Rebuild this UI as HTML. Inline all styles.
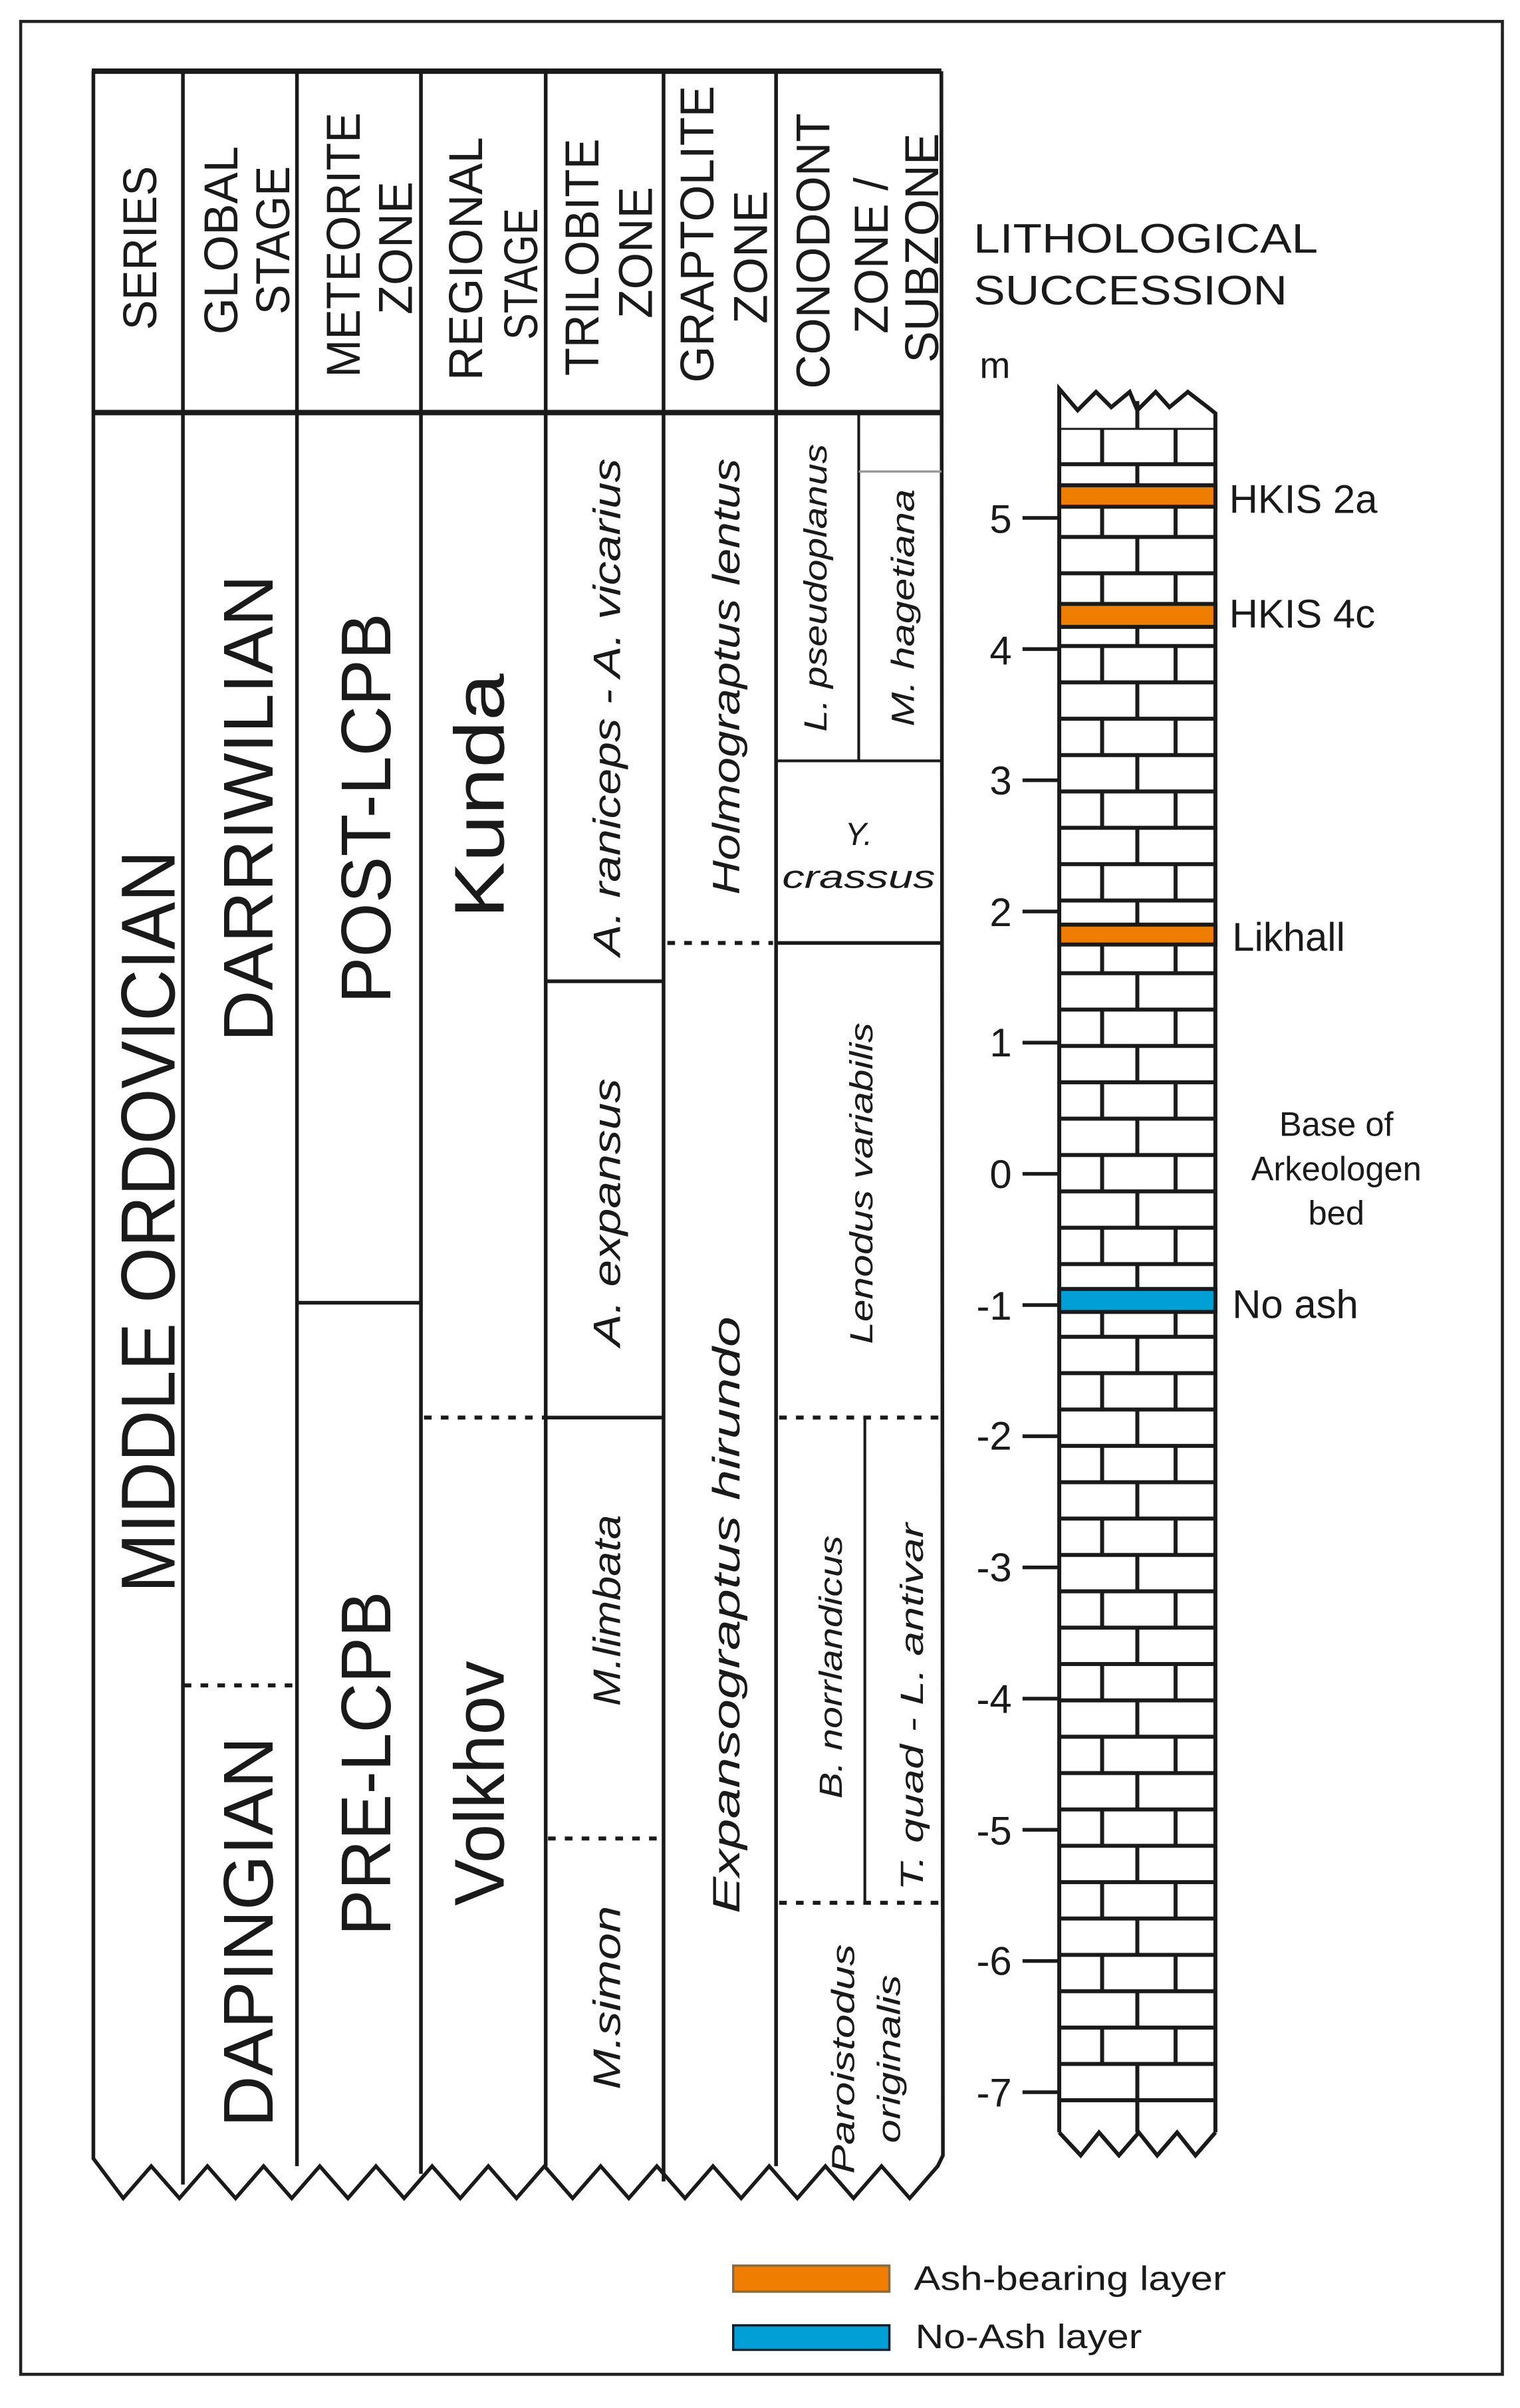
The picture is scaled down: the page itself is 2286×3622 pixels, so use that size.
<!DOCTYPE html>
<html><head><meta charset="utf-8"><style>
html,body{margin:0;padding:0;background:#fff;}
svg{display:block;}
text{font-family:"Liberation Sans",sans-serif;fill:#1a1a1a;}
.i{font-style:italic;}
</style></head><body>
<svg width="2286" height="3622" viewBox="0 0 993 1573" preserveAspectRatio="none" xmlns="http://www.w3.org/2000/svg">
<defs>
<pattern id="brick" patternUnits="userSpaceOnUse" x="692" y="279.5" width="102" height="47.5">
<g stroke="#1a1a1a" stroke-width="2.6" fill="none">
<line x1="0" y1="0" x2="102" y2="0"/>
<line x1="0" y1="23.75" x2="102" y2="23.75"/>
<line x1="0" y1="47.5" x2="102" y2="47.5"/>
<line x1="28" y1="0" x2="28" y2="23.75"/>
<line x1="76" y1="0" x2="76" y2="23.75"/>
<line x1="51" y1="23.75" x2="51" y2="47.5"/>
</g>
</pattern>
</defs>
<rect x="0" y="0" width="993" height="1573" fill="#fff"/>
<rect x="13.5" y="14" width="968" height="1537" fill="none" stroke="#222" stroke-width="2"/>

<g stroke="#1a1a1a" fill="none" stroke-width="2.4">
<line x1="60" y1="46.5" x2="615" y2="46.5" stroke-width="3.5"/>
<line x1="60" y1="269.5" x2="615" y2="269.5" stroke-width="3.5"/>
<polyline points="61,46.5 61,1410 80.5,1436 98.8,1415 117.2,1436 135.5,1415 153.9,1436 172.2,1415 190.6,1436 208.9,1415 227.3,1436 245.6,1415 264,1436 282.3,1415 300.7,1436 319,1415 337.4,1436 355.7,1415 374.1,1436 392.4,1415 410.8,1436 429.1,1415 447.5,1436 465.8,1415 484.2,1436 502.5,1415 520.9,1436 539.2,1415 557.6,1436 575.9,1415 594.3,1436 612.6,1415 616,1408 615,46.5"/>
<line x1="119.5" y1="46.5" x2="119.5" y2="1427"/>
<line x1="194" y1="46.5" x2="194" y2="1415"/>
<line x1="275" y1="46.5" x2="275" y2="1420"/>
<line x1="356.5" y1="46.5" x2="356.5" y2="1415"/>
<line x1="433.5" y1="46.5" x2="433.5" y2="1425"/>
<line x1="507" y1="46.5" x2="507" y2="1415"/>
<line x1="194" y1="851" x2="275" y2="851"/>
<line x1="356.5" y1="641" x2="433.5" y2="641"/>
<line x1="356.5" y1="926" x2="433.5" y2="926"/>
<line x1="507" y1="616" x2="615" y2="616"/>
<line x1="507" y1="497" x2="615" y2="497" stroke-width="1.8"/>
<line x1="561" y1="269.5" x2="561" y2="497" stroke-width="1.8"/>
<line x1="561" y1="308" x2="615" y2="308" stroke="#999" stroke-width="1.5"/>
<line x1="565" y1="926" x2="565" y2="1243" stroke-width="1.8"/>
<g stroke-dasharray="5,6" stroke-width="2.6">
<line x1="120" y1="1101" x2="192" y2="1101"/>
<line x1="277" y1="926" x2="356" y2="926"/>
<line x1="358" y1="1201" x2="432" y2="1201"/>
<line x1="436" y1="616" x2="505" y2="616"/>
<line x1="509" y1="926" x2="613" y2="926"/>
<line x1="509" y1="1243" x2="613" y2="1243"/>
</g>
</g>

<g font-size="31">
<text transform="translate(102,162) rotate(-90)" text-anchor="middle" textLength="107" lengthAdjust="spacingAndGlyphs">SERIES</text>
<text transform="translate(155,157) rotate(-90)" text-anchor="middle" textLength="123" lengthAdjust="spacingAndGlyphs">GLOBAL</text>
<text transform="translate(189,157) rotate(-90)" text-anchor="middle" textLength="97" lengthAdjust="spacingAndGlyphs">STAGE</text>
<text transform="translate(235,160) rotate(-90)" text-anchor="middle" textLength="173" lengthAdjust="spacingAndGlyphs">METEORITE</text>
<text transform="translate(269,162) rotate(-90)" text-anchor="middle" textLength="87" lengthAdjust="spacingAndGlyphs">ZONE</text>
<text transform="translate(315,169) rotate(-90)" text-anchor="middle" textLength="159" lengthAdjust="spacingAndGlyphs">REGIONAL</text>
<text transform="translate(351,179) rotate(-90)" text-anchor="middle" textLength="86" lengthAdjust="spacingAndGlyphs">STAGE</text>
<text transform="translate(391,168) rotate(-90)" text-anchor="middle" textLength="155" lengthAdjust="spacingAndGlyphs">TRILOBITE</text>
<text transform="translate(426,165) rotate(-90)" text-anchor="middle" textLength="86" lengthAdjust="spacingAndGlyphs">ZONE</text>
<text transform="translate(466,153) rotate(-90)" text-anchor="middle" textLength="194" lengthAdjust="spacingAndGlyphs">GRAPTOLITE</text>
<text transform="translate(501,168) rotate(-90)" text-anchor="middle" textLength="87" lengthAdjust="spacingAndGlyphs">ZONE</text>
<text transform="translate(542,164) rotate(-90)" text-anchor="middle" textLength="180" lengthAdjust="spacingAndGlyphs">CONODONT</text>
<text transform="translate(580,167) rotate(-90)" text-anchor="middle" textLength="102" lengthAdjust="spacingAndGlyphs">ZONE /</text>
<text transform="translate(613,162) rotate(-90)" text-anchor="middle" textLength="150" lengthAdjust="spacingAndGlyphs">SUBZONE</text>
</g>

<text transform="translate(114,798) rotate(-90)" text-anchor="middle" font-size="50" textLength="485" lengthAdjust="spacingAndGlyphs">MIDDLE ORDOVICIAN</text>
<text transform="translate(178,528) rotate(-90)" text-anchor="middle" font-size="46" textLength="305" lengthAdjust="spacingAndGlyphs">DARRIWILIAN</text>
<text transform="translate(178,1262) rotate(-90)" text-anchor="middle" font-size="46" textLength="255" lengthAdjust="spacingAndGlyphs">DAPINGIAN</text>
<text transform="translate(255,528) rotate(-90)" text-anchor="middle" font-size="46" textLength="255" lengthAdjust="spacingAndGlyphs">POST-LCPB</text>
<text transform="translate(255,1152) rotate(-90)" text-anchor="middle" font-size="46" textLength="225" lengthAdjust="spacingAndGlyphs">PRE-LCPB</text>
<text transform="translate(329,520) rotate(-90)" text-anchor="middle" font-size="46" textLength="160" lengthAdjust="spacingAndGlyphs">Kunda</text>
<text transform="translate(329,1165) rotate(-90)" text-anchor="middle" font-size="46" textLength="160" lengthAdjust="spacingAndGlyphs">Volkhov</text>

<g font-size="25">
<text class="i" transform="translate(405,462) rotate(-90)" text-anchor="middle" textLength="325" lengthAdjust="spacingAndGlyphs">A. raniceps - A. vicarius</text>
<text class="i" transform="translate(405,792) rotate(-90)" text-anchor="middle" textLength="175" lengthAdjust="spacingAndGlyphs">A. expansus</text>
<text class="i" transform="translate(405,1052) rotate(-90)" text-anchor="middle" textLength="125" lengthAdjust="spacingAndGlyphs">M.limbata</text>
<text class="i" transform="translate(405,1305) rotate(-90)" text-anchor="middle" textLength="120" lengthAdjust="spacingAndGlyphs">M.simon</text>
<text class="i" transform="translate(483,442) rotate(-90)" text-anchor="middle" textLength="285" lengthAdjust="spacingAndGlyphs">Holmograptus lentus</text>
<text class="i" transform="translate(483,1055) rotate(-90)" text-anchor="middle" textLength="390" lengthAdjust="spacingAndGlyphs">Expansograptus hirundo</text>
</g>
<g font-size="21">
<text class="i" transform="translate(540,384) rotate(-90)" text-anchor="middle" textLength="188" lengthAdjust="spacingAndGlyphs">L. pseudoplanus</text>
<text class="i" transform="translate(597,397) rotate(-90)" text-anchor="middle" textLength="155" lengthAdjust="spacingAndGlyphs">M. hagetiana</text>
<text class="i" x="561" y="552" text-anchor="middle">Y.</text>
<text class="i" x="561" y="580" text-anchor="middle" textLength="100" lengthAdjust="spacingAndGlyphs">crassus</text>
<text class="i" transform="translate(570,773) rotate(-90)" text-anchor="middle" textLength="210" lengthAdjust="spacingAndGlyphs">Lenodus variabilis</text>
<text class="i" transform="translate(550,1089) rotate(-90)" text-anchor="middle" textLength="172" lengthAdjust="spacingAndGlyphs">B. norrlandicus</text>
<text class="i" transform="translate(603,1115) rotate(-90)" text-anchor="middle" textLength="240" lengthAdjust="spacingAndGlyphs">T. quad - L. antivar</text>
<text class="i" transform="translate(558,1345) rotate(-90)" text-anchor="middle" textLength="150" lengthAdjust="spacingAndGlyphs">Paroistodus</text>
<text class="i" transform="translate(588,1345) rotate(-90)" text-anchor="middle" textLength="110" lengthAdjust="spacingAndGlyphs">originalis</text>
</g>

<text x="636" y="165" font-size="27" textLength="225" lengthAdjust="spacingAndGlyphs">LITHOLOGICAL</text>
<text x="636" y="199" font-size="27" textLength="205" lengthAdjust="spacingAndGlyphs">SUCCESSION</text>
<text x="640" y="247" font-size="24">m</text>

<rect x="692" y="279.5" width="102" height="1093" fill="url(#brick)"/>
<g stroke="#1a1a1a" stroke-width="2.6" fill="none">
<polyline points="692,1393 692,254 704,268 716,256 726,266 738,256 743,268 755,256 764,266 776,256 789,266 794,270 794,1393"/>
<line x1="743" y1="262" x2="743" y2="279.5"/>
<line x1="692" y1="1372" x2="794" y2="1372"/>
<line x1="743" y1="1372" x2="743" y2="1393"/>
<polyline points="692,1393 706,1408 718,1393 731,1408 744,1393 756,1408 769,1393 781,1408 794,1393"/>
</g>
<g stroke="#1a1a1a" stroke-width="2.6">
<rect x="692" y="317" width="102" height="14" fill="#ef7d00"/>
<rect x="692" y="394.5" width="102" height="15" fill="#ef7d00"/>
<rect x="692" y="604" width="102" height="13" fill="#ef7d00"/>
<rect x="692" y="842" width="102" height="15" fill="#00a0d6"/>
</g>
<g stroke="#1a1a1a" stroke-width="2.4">
<line x1="668" y1="338.3" x2="692" y2="338.3"/><line x1="668" y1="424" x2="692" y2="424"/>
<line x1="668" y1="509.7" x2="692" y2="509.7"/><line x1="668" y1="595.4" x2="692" y2="595.4"/>
<line x1="668" y1="681.1" x2="692" y2="681.1"/><line x1="668" y1="766.8" x2="692" y2="766.8"/>
<line x1="668" y1="852.5" x2="692" y2="852.5"/><line x1="668" y1="938.2" x2="692" y2="938.2"/>
<line x1="668" y1="1023.9" x2="692" y2="1023.9"/><line x1="668" y1="1109.6" x2="692" y2="1109.6"/>
<line x1="668" y1="1195.3" x2="692" y2="1195.3"/><line x1="668" y1="1281" x2="692" y2="1281"/>
<line x1="668" y1="1366.7" x2="692" y2="1366.7"/>
</g>
<g font-size="26" text-anchor="end">
<text x="661" y="348">5</text><text x="661" y="434">4</text><text x="661" y="519">3</text>
<text x="661" y="605">2</text><text x="661" y="690">1</text><text x="661" y="776">0</text>
<text x="661" y="862">-1</text><text x="661" y="947">-2</text><text x="661" y="1033">-3</text>
<text x="661" y="1119">-4</text><text x="661" y="1205">-5</text><text x="661" y="1290">-6</text>
<text x="661" y="1376">-7</text>
</g>
<g font-size="26">
<text x="803" y="335">HKIS 2a</text>
<text x="803" y="410">HKIS 4c</text>
<text x="805" y="621">Likhall</text>
<text x="805" y="861">No ash</text>
</g>
<g font-size="22" text-anchor="middle">
<text x="873" y="742">Base of</text>
<text x="873" y="771">Arkeologen</text>
<text x="873" y="800">bed</text>
</g>

<rect x="479" y="1480" width="102" height="17" fill="#ef7d00" stroke="#8a6a40" stroke-width="1.5"/>
<rect x="479" y="1519" width="102" height="16" fill="#00a0d6" stroke="#0a2030" stroke-width="1.5"/>
<text x="597" y="1496" font-size="22" textLength="204" lengthAdjust="spacingAndGlyphs">Ash-bearing layer</text>
<text x="598" y="1534" font-size="22" textLength="148" lengthAdjust="spacingAndGlyphs">No-Ash layer</text>
</svg>
</body></html>
